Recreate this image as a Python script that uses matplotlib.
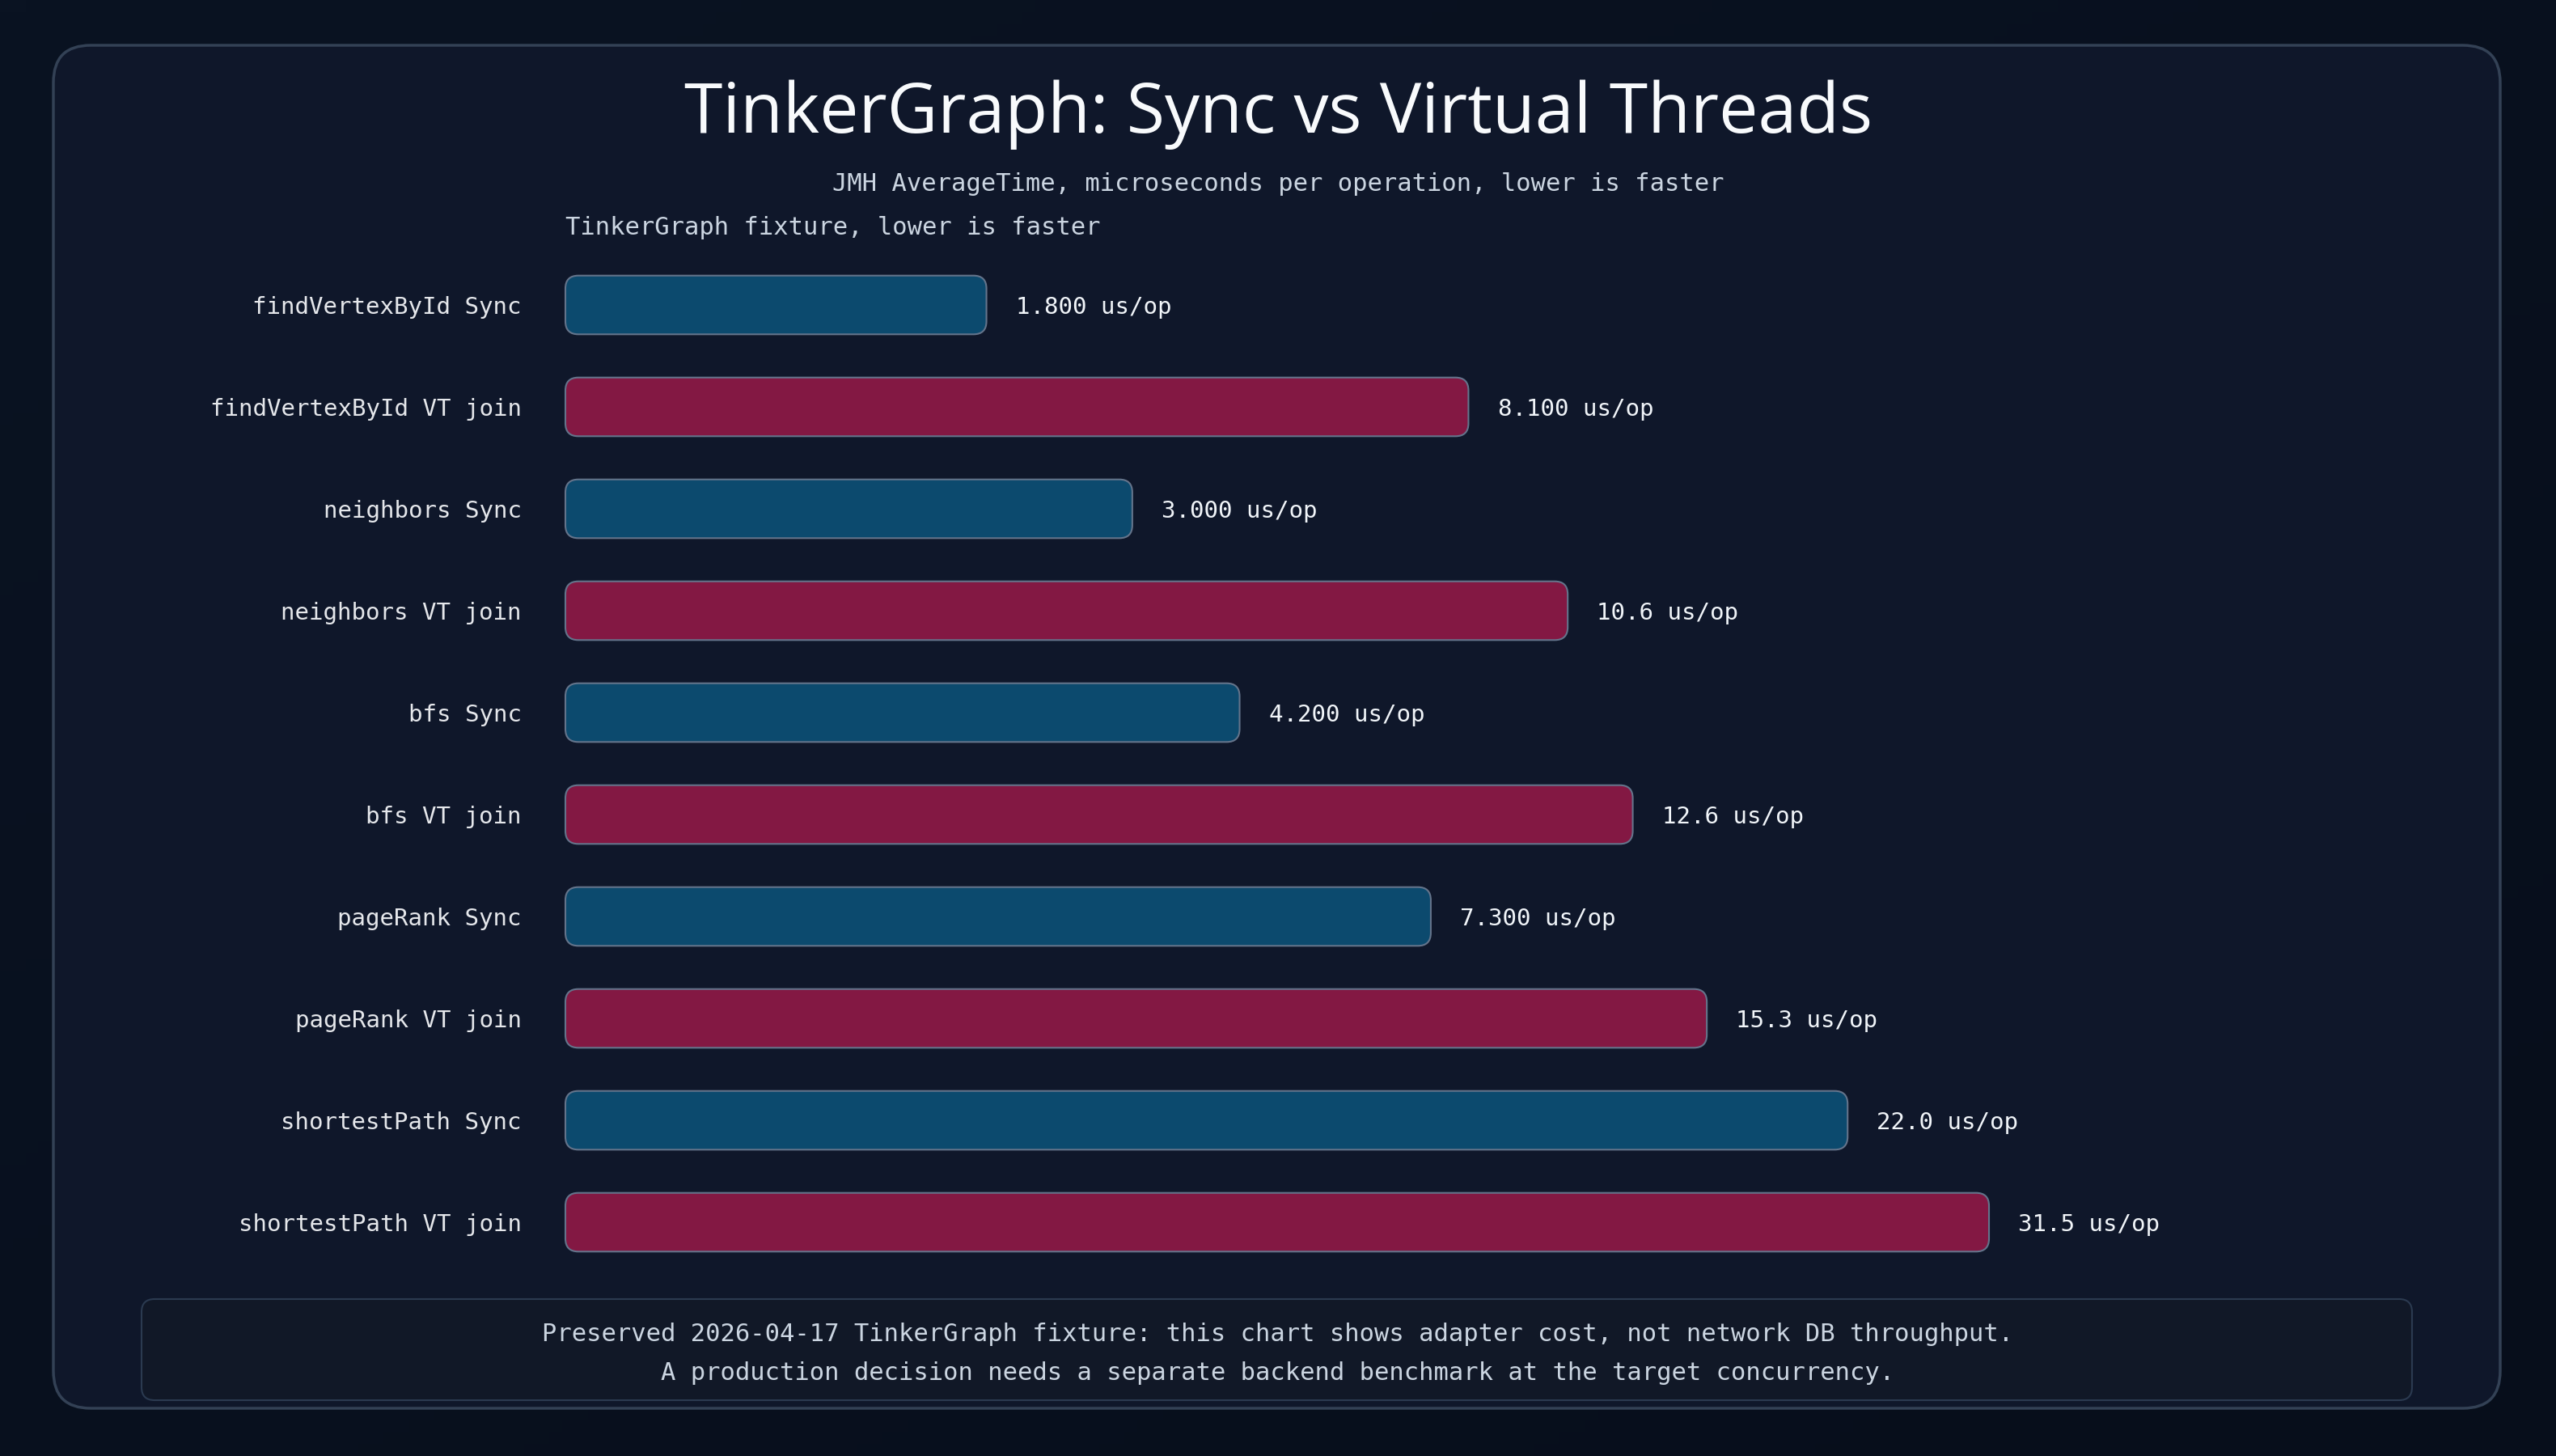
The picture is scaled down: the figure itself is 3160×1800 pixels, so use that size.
import numpy as np
import matplotlib
matplotlib.use("Agg")
import matplotlib.pyplot as plt
from matplotlib.patches import FancyBboxPatch
from matplotlib.transforms import IdentityTransform
from matplotlib.colors import LinearSegmentedColormap

# ---------------- data ----------------
categories = [
    "findVertexById Sync", "findVertexById VT join",
    "neighbors Sync", "neighbors VT join",
    "bfs Sync", "bfs VT join",
    "pageRank Sync", "pageRank VT join",
    "shortestPath Sync", "shortestPath VT join",
]
modes = ["Sync", "VT join", "Sync", "VT join", "Sync", "VT join",
         "Sync", "VT join", "Sync", "VT join"]
values = [1.8, 8.1, 3.0, 10.6, 4.2, 12.6, 7.3, 15.3, 22.0, 31.5]
value_labels = ["1.800 us/op", "8.100 us/op", "3.000 us/op", "10.6 us/op",
                "4.200 us/op", "12.6 us/op", "7.300 us/op", "15.3 us/op",
                "22.0 us/op", "31.5 us/op"]

title = "TinkerGraph: Sync vs Virtual Threads"
subtitle = "JMH AverageTime, microseconds per operation, lower is faster"
panel_title = "TinkerGraph fixture, lower is faster"
footer_lines = [
    "Preserved 2026-04-17 TinkerGraph fixture: this chart shows adapter cost, not network DB throughput.",
    "A production decision needs a separate backend benchmark at the target concurrency.",
]

# ---------------- style ----------------
W, H = 3160, 1800
MONO = ["DejaVu Sans Mono", "DejaVu Sans"]
TITLE_FONT = ["Open Sans", "DejaVu Sans"]
mode_colors = {"Sync": "#0c4a6e", "VT join": "#831843"}
bar_edge = "#64748b"
card_fill = "#0f172a"
card_edge = "#334155"
text_main = "#e5e7eb"
text_sub = "#cbd5e1"

fig = plt.figure(figsize=(W / 100, H / 100), dpi=100)
fig.patch.set_facecolor("#08101f")

# background gradient
bg = fig.add_axes([0, 0, 1, 1])
bg.set_axis_off()
gx = np.linspace(0, 1, 200)
gy = np.linspace(0, 1, 120)
GX, GY = np.meshgrid(gx, gy)
grad = 0.5 * GX + 0.5 * GY
cmap = LinearSegmentedColormap.from_list("bg", ["#0a1322", "#070e1b"])
bg.imshow(grad, cmap=cmap, aspect="auto", extent=[0, 1, 0, 1], origin="upper")
bg.set_xlim(0, 1)
bg.set_ylim(0, 1)
bg.set_zorder(-10)

ident = IdentityTransform()


def box_px(x_left, y_top, w, h, r, fc, ec, lw, z):
    p = FancyBboxPatch((x_left, H - y_top - h), w, h,
                       boxstyle=f"round,pad=0,rounding_size={r}",
                       transform=ident, facecolor=fc, edgecolor=ec,
                       linewidth=lw, zorder=z)
    fig.add_artist(p)
    return p


# card
box_px(66, 56, 3025, 1685, 46, card_fill, card_edge, 2.5, 1)
# footer box
box_px(175, 1606, 2807, 125, 16, "#111827", "#2b3a50", 1.5, 2)

# texts
fig.text(0.5, 1 - 142 / H, title, ha="center", va="center",
         fontsize=62, color="#f8fafc", family=TITLE_FONT, zorder=5)
fig.text(0.5, 1 - 224 / H, subtitle, ha="center", va="center_baseline",
         fontsize=22, color=text_sub, family=MONO, zorder=5)
fig.text(699 / W, 1 - 278 / H, panel_title, ha="left", va="center_baseline",
         fontsize=22, color=text_sub, family=MONO, zorder=5)
fig.text(0.5, 1 - 1646 / H, footer_lines[0], ha="center", va="center_baseline",
         fontsize=22, color=text_sub, family=MONO, zorder=5)
fig.text(0.5, 1 - 1694 / H, footer_lines[1], ha="center", va="center_baseline",
         fontsize=22, color=text_sub, family=MONO, zorder=5)

# ---------------- chart axes ----------------
ax_left, ax_right = 699, 2951
ax_top, ax_bottom = 314, 1574
ax = fig.add_axes([ax_left / W, 1 - ax_bottom / H,
                   (ax_right - ax_left) / W, (ax_bottom - ax_top) / H])
ax.set_zorder(3)
ax.patch.set_alpha(0)


def fwd(x):
    x = np.asarray(x, dtype=float)
    with np.errstate(invalid="ignore", divide="ignore"):
        return np.log10(1 + np.clip(x, -0.999999, None))


def inv(t):
    return 10 ** np.asarray(t, dtype=float) - 1


ax.set_xscale("function", functions=(fwd, inv))
ax.set_xlim(0, 85)
ypos = np.arange(len(categories))
ax.set_ylim(len(categories) - 0.5, -0.5)

colors = [mode_colors[m] for m in modes]
bars = ax.barh(ypos, values, height=0.576, color=colors,
               edgecolor=bar_edge, linewidth=1.5)

ax.set_yticks(ypos)
ax.set_yticklabels(categories, family=MONO, fontsize=21, color=text_main,
                   va="center_baseline")
ax.tick_params(axis="y", length=0, pad=39)
ax.set_xticks([])
ax.xaxis.set_minor_locator(matplotlib.ticker.NullLocator())
for s in ax.spines.values():
    s.set_visible(False)

for i, (v, lbl) in enumerate(zip(values, value_labels)):
    ax.annotate(lbl, xy=(v, i), xytext=(26, 0), textcoords="offset points",
                ha="left", va="center_baseline", fontsize=21, color="#f1f5f9",
                family=MONO)

# replace rectangles with rounded versions at the same display extents
fig.canvas.draw()
for b in bars:
    bb = b.get_window_extent()
    rp = FancyBboxPatch((bb.x0, bb.y0), bb.width, bb.height,
                        boxstyle="round,pad=0,rounding_size=16",
                        transform=ident, facecolor=b.get_facecolor(),
                        edgecolor=bar_edge, linewidth=1.5, zorder=4)
    fig.add_artist(rp)
    b.set_visible(False)

fig.savefig("out.png", dpi=100, facecolor=fig.get_facecolor())
